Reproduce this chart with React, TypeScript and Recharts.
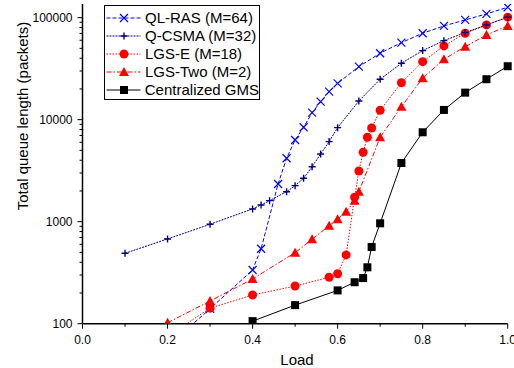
import React from "react";
import { LineChart, Line, XAxis, YAxis, Legend } from "recharts";

// load (x) and total queue length (y) per scheme
const qlRasLoad = [0.2, 0.3, 0.4, 0.42, 0.46, 0.48, 0.5, 0.52, 0.54, 0.56, 0.58, 0.6, 0.65, 0.7, 0.75, 0.8, 0.85, 0.9, 0.95, 1.0];
const qlRasQueue = [60, 140, 336, 543, 2340, 4180, 6320, 8420, 11700, 15000, 18800, 22700, 33100, 44800, 56900, 70300, 82900, 94900, 108700, 126500];

const qCsmaLoad = [0.1, 0.2, 0.3, 0.4, 0.42, 0.44, 0.48, 0.5, 0.52, 0.54, 0.56, 0.58, 0.6, 0.65, 0.7, 0.75, 0.8, 0.85, 0.9, 0.95, 1.0];
const qCsmaQueue = [490, 677, 943, 1333, 1458, 1607, 1968, 2254, 2663, 3460, 4610, 6090, 8350, 15250, 24900, 35700, 47500, 59500, 71300, 84800, 101000];

const lgsELoad = [0.2, 0.3, 0.4, 0.5, 0.58, 0.6, 0.62, 0.64, 0.65, 0.66, 0.67, 0.68, 0.7, 0.75, 0.8, 0.85, 0.9, 0.95, 1.0];
const lgsEQueue = [75, 142, 191, 234, 285, 309, 472, 1735, 3140, 4790, 6720, 8290, 12360, 23000, 37000, 52800, 70300, 84800, 101000];

const lgsTwoLoad = [0.2, 0.3, 0.4, 0.5, 0.54, 0.58, 0.6, 0.62, 0.64, 0.65, 0.7, 0.75, 0.8, 0.85, 0.9, 0.95, 1.0];
const lgsTwoQueue = [102, 167, 274, 497, 672, 914, 1056, 1253, 1607, 1968, 6720, 13400, 25500, 39100, 51900, 67700, 82900];

const gmsLoad = [0.4, 0.5, 0.6, 0.64, 0.66, 0.67, 0.68, 0.7, 0.75, 0.8, 0.85, 0.9, 0.95, 1.0];
const gmsQueue = [106, 152, 212, 255, 280, 357, 565, 964, 3760, 7520, 12450, 18400, 24900, 33400];

const xTicks = [0, 0.1, 0.2, 0.3, 0.4, 0.5, 0.6, 0.7, 0.8, 0.9, 1.0];
const yTicks = [
  100, 200, 300, 400, 500, 600, 700, 800, 900,
  1000, 2000, 3000, 4000, 5000, 6000, 7000, 8000, 9000,
  10000, 20000, 30000, 40000, 50000, 60000, 70000, 80000, 90000,
  100000,
];

const FONT = '"Liberation Sans", Arial, sans-serif';

type MarkerKind = "x" | "plus" | "circle" | "triangle" | "square";

const SERIES: { name: string; load: number[]; queue: number[]; color: string; dash?: string; marker: MarkerKind }[] = [
  { name: "QL-RAS (M=64)", load: qlRasLoad, queue: qlRasQueue, color: "#0000ff", dash: "4 2", marker: "x" },
  { name: "Q-CSMA (M=32)", load: qCsmaLoad, queue: qCsmaQueue, color: "#000080", dash: "2 1", marker: "plus" },
  { name: "LGS-E (M=18)", load: lgsELoad, queue: lgsEQueue, color: "#ff0000", dash: "1.5 1.5", marker: "circle" },
  { name: "LGS-Two (M=2)", load: lgsTwoLoad, queue: lgsTwoQueue, color: "#ff0000", dash: "5 2 1.5 2", marker: "triangle" },
  { name: "Centralized GMS", load: gmsLoad, queue: gmsQueue, color: "#000000", marker: "square" },
];

// draw order: QL-RAS at the bottom, Q-CSMA above the red ones
const DRAW_ORDER = [0, 2, 3, 1, 4];

function Marker({ kind, cx, cy, color }: { kind: MarkerKind; cx: number; cy: number; color: string }) {
  switch (kind) {
    case "x":
      return (
        <path
          d={`M${cx - 4},${cy - 4}L${cx + 4},${cy + 4}M${cx - 4},${cy + 4}L${cx + 4},${cy - 4}`}
          stroke={color}
          strokeWidth={1.2}
          fill="none"
        />
      );
    case "plus":
      return (
        <path
          d={`M${cx - 3.5},${cy}L${cx + 3.5},${cy}M${cx},${cy - 3.5}L${cx},${cy + 3.5}`}
          stroke={color}
          strokeWidth={1.4}
          fill="none"
        />
      );
    case "circle":
      return <circle cx={cx} cy={cy} r={4.5} fill={color} />;
    case "triangle":
      return <path d={`M${cx},${cy - 5}L${cx + 5},${cy + 4}L${cx - 5},${cy + 4}Z`} fill={color} />;
    default:
      return <rect x={cx - 4} y={cy - 4} width={8} height={8} fill={color} />;
  }
}

const XTick = (props: any) => {
  const { x, y, payload } = props;
  const v = payload.value as number;
  const major = Math.round(v * 10) % 2 === 0;
  return (
    <g>
      <line x1={x} x2={x} y1={y} y2={y + (major ? 5 : 3)} stroke="#000" strokeWidth={1} />
      {major && (
        <text x={x} y={y + 12} dy="0.71em" textAnchor="middle" fontSize={12} fontFamily={FONT} fill="#000">
          {v.toFixed(1)}
        </text>
      )}
    </g>
  );
};

const YTick = (props: any) => {
  const { x, y, payload } = props;
  const v = payload.value as number;
  const lg = Math.log10(v);
  const major = Math.abs(lg - Math.round(lg)) < 1e-6;
  return (
    <g>
      <line x1={x - (major ? 5 : 3)} x2={x} y1={y} y2={y} stroke="#000" strokeWidth={1} />
      {major && (
        <text x={x - 10} y={y} dy="0.355em" textAnchor="end" fontSize={12} fontFamily={FONT} fill="#000">
          {v}
        </text>
      )}
    </g>
  );
};

function LegendBox() {
  return (
    <div
      style={{
        width: 156,
        height: 95,
        boxSizing: "border-box",
        border: "1px solid #000",
        background: "#fff",
        paddingTop: 3,
        fontFamily: FONT,
        fontSize: 15,
        color: "#000",
      }}
    >
      {SERIES.map((s) => (
        <div key={s.name} style={{ display: "flex", alignItems: "center", height: 18, whiteSpace: "nowrap" }}>
          <svg width={39} height={18} style={{ display: "block" }}>
            <line x1={1.5} x2={35.5} y1={9} y2={9} stroke={s.color} strokeWidth={1} strokeDasharray={s.dash} />
            <Marker kind={s.marker} cx={19} cy={9} color={s.color} />
          </svg>
          <span style={{ marginLeft: 1, lineHeight: "18px" }}>{s.name}</span>
        </div>
      ))}
    </div>
  );
}

export default function App() {
  return (
    <div style={{ position: "absolute", left: 0, top: 0, width: 514, height: 368, background: "#fff" }}>
      <LineChart width={514} height={368} margin={{ top: 4, right: 6.3, left: 0, bottom: 0 }}>
        <XAxis
          type="number"
          dataKey="load"
          domain={[0, 1]}
          ticks={xTicks}
          interval={0}
          tickSize={0}
          tickMargin={0}
          tickLine={false}
          tick={<XTick />}
          height={44.3}
          axisLine={{ stroke: "#000", strokeWidth: 1.5 }}
          label={{
            content: () => (
              <text x={297} y={365} textAnchor="middle" fontSize={15} fontFamily={FONT} fill="#000">
                Load
              </text>
            ),
          }}
        />
        <YAxis
          type="number"
          scale="log"
          domain={[100, 136000]}
          allowDataOverflow
          ticks={yTicks}
          interval={0}
          tickSize={0}
          tickMargin={0}
          tickLine={false}
          tick={<YTick />}
          width={82.5}
          axisLine={{ stroke: "#000", strokeWidth: 1.5 }}
          label={{
            content: () => (
              <text
                x={22}
                y={116}
                transform="rotate(-90 22 116)"
                textAnchor="middle"
                dominantBaseline="central"
                fontSize={15}
                fontFamily={FONT}
                fill="#000"
              >
                Total queue length (packets)
              </text>
            ),
          }}
        />
        <Legend
          layout="vertical"
          align="center"
          verticalAlign="middle"
          content={() => <LegendBox />}
          wrapperStyle={{ left: 104, top: 5, width: 156, height: 95 }}
        />
        {DRAW_ORDER.map((idx) => {
          const s = SERIES[idx];
          const data = s.load.map((l, i) => ({ load: l, queue: s.queue[i] }));
          return (
            <Line
              key={s.name}
              data={data}
              dataKey="queue"
              name={s.name}
              type="linear"
              stroke={s.color}
              strokeWidth={1}
              strokeDasharray={s.dash}
              isAnimationActive={false}
              activeDot={false}
              legendType="none"
              dot={(p: any) => (
                <g key={`${s.name}-${p.index}`}>
                  {p.payload.queue >= 100 && <Marker kind={s.marker} cx={p.cx} cy={p.cy} color={s.color} />}
                </g>
              )}
            />
          );
        })}
      </LineChart>
    </div>
  );
}
